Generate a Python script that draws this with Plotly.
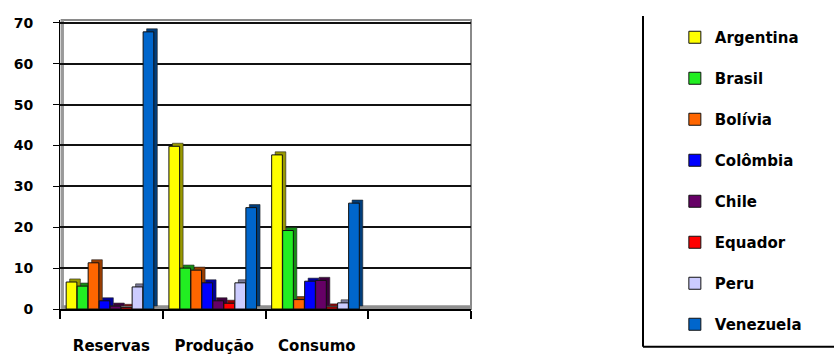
import plotly.graph_objects as go

categories = ["Reservas", "Produção", "Consumo", " "]
countries = ["Argentina", "Brasil", "Bolívia", "Colômbia", "Chile", "Equador", "Peru", "Venezuela"]
colors = ["#FFFF00", "#22EE22", "#FF6600", "#0000FF", "#660066", "#FF0000", "#CCCCFF", "#0066CC"]

argentina = [6.6, 39.8, 37.7, None]
brasil = [5.6, 10.0, 19.2, None]
bolivia = [11.3, 9.5, 2.3, None]
colombia = [2.0, 6.4, 6.8, None]
chile = [0.7, 2.0, 7.0, None]
equador = [0.4, 1.4, 0.5, None]
peru = [5.4, 6.4, 1.5, None]
venezuela = [67.8, 24.8, 25.9, None]

series = [argentina, brasil, bolivia, colombia, chile, equador, peru, venezuela]

FONT = "DejaVu Sans"
step = 0.107
bw = 0.104
start = -0.44
dx = 0.034
dy = 0.75


def darker(hexc, f=0.6):
    h = hexc.lstrip("#")
    r, g, b = (int(h[i:i + 2], 16) for i in (0, 2, 4))
    return "#%02X%02X%02X" % (int(r * f), int(g * f), int(b * f))


fig = go.Figure()
for i, (name, vals, col) in enumerate(zip(countries, series, colors)):
    off = start + i * step
    # depth (side/top face) of the pseudo-3D bar
    fig.add_trace(go.Bar(
        x=categories, y=vals, base=dy, offset=off + dx, width=bw,
        marker=dict(color=darker(col), line=dict(color="#222222", width=0.6)),
        showlegend=False, hoverinfo="skip", legendgroup=name,
    ))
    fig.add_trace(go.Bar(
        x=categories, y=vals, name=name, offset=off, width=bw,
        marker=dict(color=col, line=dict(color="#111111", width=1)),
        legendgroup=name,
    ))

fig.update_layout(
    width=834, height=356,
    margin=dict(l=60, r=363, t=20, b=47, autoexpand=False),
    paper_bgcolor="white", plot_bgcolor="white",
    barmode="overlay",
    font=dict(family=FONT, color="black", size=14, weight="bold"),
    legend=dict(
        x=1.496, y=0.9965, xanchor="left", yanchor="top",
        font=dict(family=FONT, size=15, color="black", weight="bold"),
        tracegroupgap=18.5, bgcolor="rgba(0,0,0,0)", borderwidth=0,
        maxheight=400,
    ),
    xaxis=dict(
        type="category", categoryorder="array", categoryarray=categories,
        range=[-0.5, 3.5], showgrid=False,
        showline=True, linecolor="black", linewidth=2,
        ticks="outside", tickson="boundaries", ticklen=8, tickwidth=2, tickcolor="black",
        ticklabelstandoff=22,
        tickfont=dict(family=FONT, size=15, color="black", weight="bold"),
    ),
    yaxis=dict(
        range=[0, 70.7], tickvals=[0, 10, 20, 30, 40, 50, 60, 70],
        showgrid=True, gridcolor="#111111", gridwidth=2, zeroline=False,
        showline=True, linecolor="black", linewidth=1,
        ticks="outside", ticklen=6, tickwidth=1, tickcolor="black",
        ticklabelstandoff=17,
        tickfont=dict(family=FONT, size=14, color="black", weight="bold"),
    ),
    shapes=[
        # back wall frame
        dict(type="rect", xref="paper", yref="paper", x0=0.004, x1=1.0, y0=0, y1=1,
             line=dict(color="#8A8A8A", width=2), layer="below"),
        # left wall edge
        dict(type="line", xref="paper", yref="paper", x0=0.006, x1=0.006, y0=0, y1=1,
             line=dict(color="#9A9A9A", width=3), layer="below"),
        # floor
        dict(type="rect", xref="paper", yref="paper", x0=0.004, x1=1.0, y0=0.0, y1=0.013,
             fillcolor="#8F8F8F", line=dict(width=0), layer="below"),
        # legend frame (left and bottom edges)
        dict(type="line", xref="paper", yref="paper", x0=1.4185, x1=1.4185, y0=-0.131, y1=1.014,
             line=dict(color="black", width=2)),
        dict(type="line", xref="paper", yref="paper", x0=1.4185, x1=1.90, y0=-0.131, y1=-0.131,
             line=dict(color="black", width=2)),
    ],
)

fig.write_html("out.html")
